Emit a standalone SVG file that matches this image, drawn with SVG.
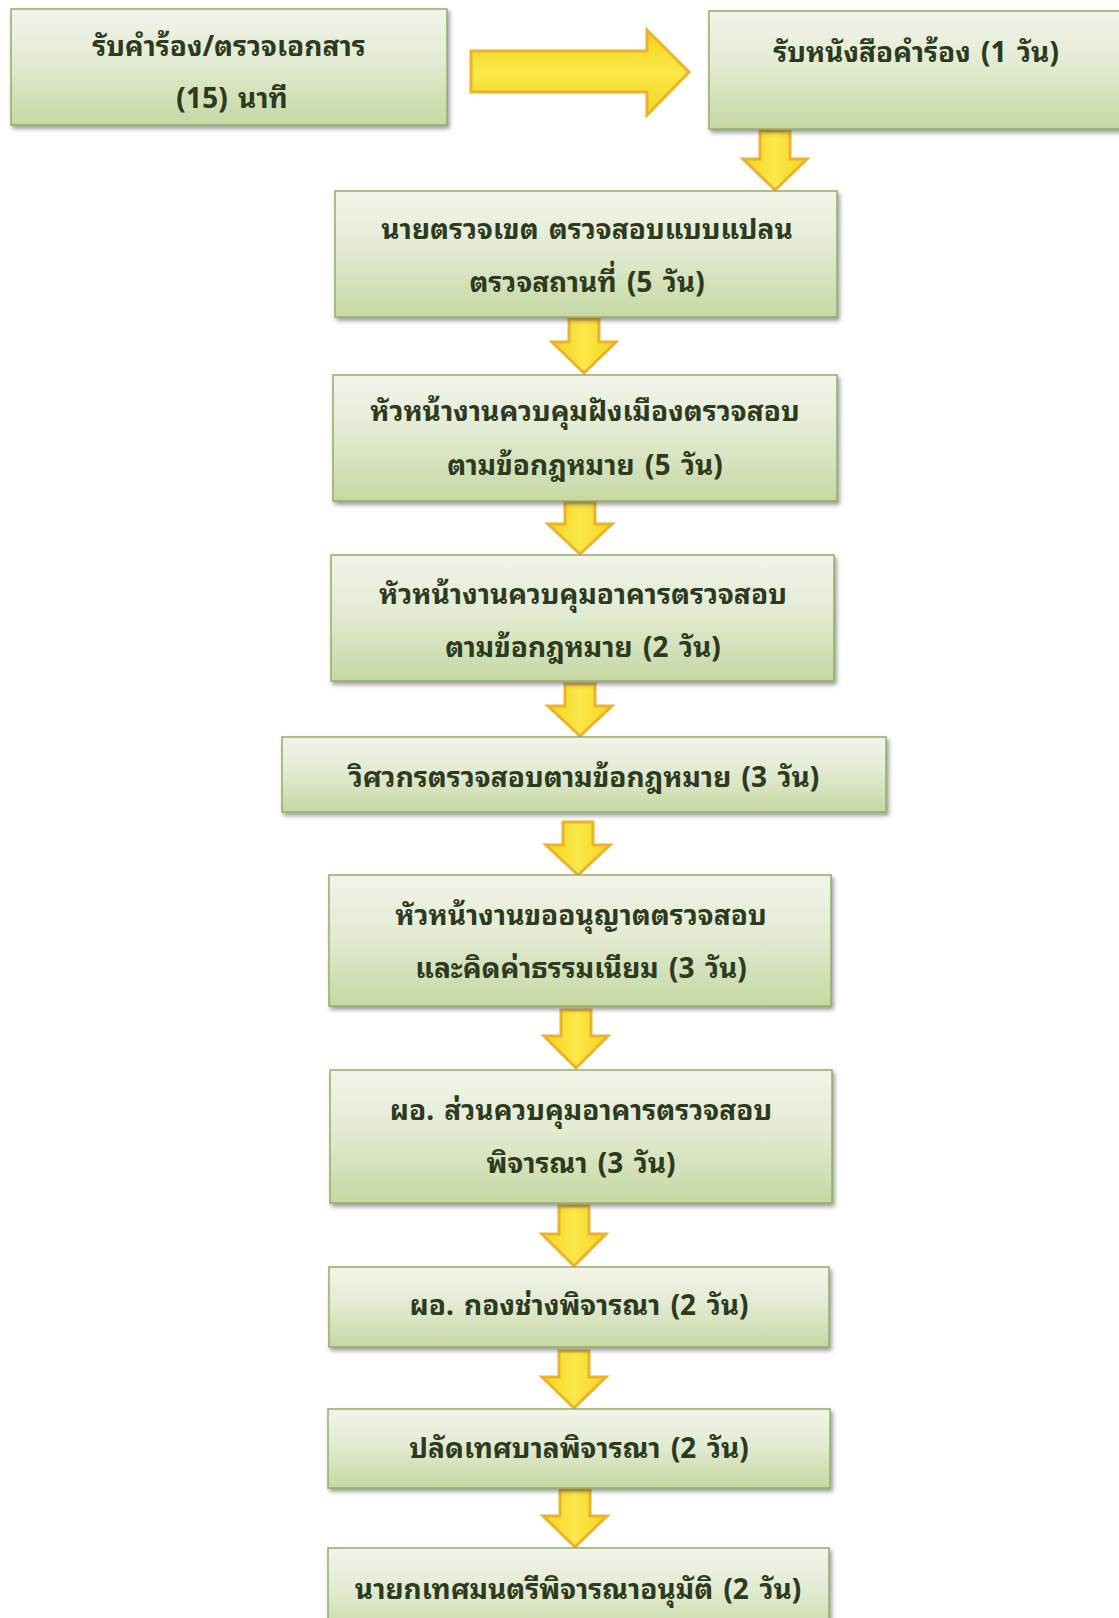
<svg xmlns="http://www.w3.org/2000/svg" width="1119" height="1618" viewBox="0 0 1119 1618">
<defs>
<linearGradient id="boxg" x1="0" y1="0" x2="0" y2="1">
<stop offset="0" stop-color="#f2f4ea"/>
<stop offset="0.45" stop-color="#e3ebd3"/>
<stop offset="1" stop-color="#c6d8a3"/>
</linearGradient>
<linearGradient id="arrv" x1="0" y1="0" x2="1" y2="0">
<stop offset="0" stop-color="#f6d31c"/>
<stop offset="0.5" stop-color="#fbe84a"/>
<stop offset="1" stop-color="#f6d31c"/>
</linearGradient>
<linearGradient id="arrh" x1="0" y1="0" x2="0" y2="1">
<stop offset="0" stop-color="#f6d31c"/>
<stop offset="0.5" stop-color="#fbe84a"/>
<stop offset="1" stop-color="#f6d31c"/>
</linearGradient>
<filter id="sh" x="-5%" y="-10%" width="112%" height="130%">
<feDropShadow dx="2" dy="3" stdDeviation="2" flood-color="#4a4a4a" flood-opacity="0.55"/>
</filter>
</defs>
<style>
.box{fill:url(#boxg);stroke:#93ae63;stroke-width:1.5;filter:url(#sh)}
.t{font-family:"Noto Sans Thai Looped","Noto Serif Thai","Noto Sans Thai","Noto Sans Thai UI","Loma","Tahoma","Noto Sans","DejaVu Sans",sans-serif;font-size:28px;font-weight:bold;fill:#2c3a20;text-anchor:middle;dominant-baseline:central;word-spacing:3px}
.av{fill:url(#arrv);stroke:#eeb12c;stroke-width:3;stroke-linejoin:miter}
.ah{fill:url(#arrh);stroke:#eeb12c;stroke-width:3;stroke-linejoin:miter}
</style>
<rect width="1119" height="1618" fill="#ffffff"/>

<g id="connectors">
<path class="ah" d="M471,51 L647,51 L647,30 L689,72 L647,115 L647,92 L471,92 Z"/>
<path class="av" d="M760,131 L790,131 L790,159 L807,159 L775,190 L743,159 L760,159 Z"/>
<path class="av" d="M569,319 L599,319 L599,342 L616,342 L584,373 L552,342 L569,342 Z"/>
<path class="av" d="M565,502 L595,502 L595,524 L612,524 L580,554 L548,524 L565,524 Z"/>
<path class="av" d="M565,684 L595,684 L595,706 L612,706 L580,736 L548,706 L565,706 Z"/>
<path class="av" d="M563,822 L593,822 L593,845 L610,845 L578,875 L546,845 L563,845 Z"/>
<path class="av" d="M561,1010 L591,1010 L591,1036 L608,1036 L576,1068 L544,1036 L561,1036 Z"/>
<path class="av" d="M559,1206 L589,1206 L589,1234 L606,1234 L574,1266 L542,1234 L559,1234 Z"/>
<path class="av" d="M559,1351 L589,1351 L589,1377 L606,1377 L574,1408 L542,1377 L559,1377 Z"/>
<path class="av" d="M560,1490 L590,1490 L590,1516 L607,1516 L575,1547 L543,1516 L560,1516 Z"/>
</g>

<g id="n1">
<rect class="box" x="11" y="9" width="436" height="116"/>
<text class="t" x="229" y="43">รับคำร้อง/ตรวจเอกสาร</text>
<text class="t" x="232" y="95">(15) นาที</text>
</g>
<g id="n2">
<rect class="box" x="709" y="11" width="430" height="118"/>
<text class="t" x="916" y="49">รับหนังสือคำร้อง (1 วัน)</text>
</g>
<g id="n3">
<rect class="box" x="335" y="191" width="502" height="126"/>
<text class="t" x="587" y="226">นายตรวจเขต ตรวจสอบแบบแปลน</text>
<text class="t" x="587" y="279">ตรวจสถานที่ (5 วัน)</text>
</g>
<g id="n4">
<rect class="box" x="333" y="375" width="504" height="126"/>
<text class="t" x="585" y="408">หัวหน้างานควบคุมฝังเมืองตรวจสอบ</text>
<text class="t" x="585" y="462">ตามข้อกฎหมาย (5 วัน)</text>
</g>
<g id="n5">
<rect class="box" x="331" y="555" width="503" height="126"/>
<text class="t" x="583" y="591">หัวหน้างานควบคุมอาคารตรวจสอบ</text>
<text class="t" x="583" y="644">ตามข้อกฎหมาย (2 วัน)</text>
</g>
<g id="n6">
<rect class="box" x="282" y="737" width="604" height="75"/>
<text class="t" x="584" y="774">วิศวกรตรวจสอบตามข้อกฎหมาย (3 วัน)</text>
</g>
<g id="n7">
<rect class="box" x="329" y="875" width="502" height="131"/>
<text class="t" x="581" y="912">หัวหน้างานขออนุญาตตรวจสอบ</text>
<text class="t" x="581" y="965">และคิดค่าธรรมเนียม (3 วัน)</text>
</g>
<g id="n8">
<rect class="box" x="330" y="1070" width="502" height="133"/>
<text class="t" x="581" y="1107">ผอ. ส่วนควบคุมอาคารตรวจสอบ</text>
<text class="t" x="581" y="1160">พิจารณา (3 วัน)</text>
</g>
<g id="n9">
<rect class="box" x="329" y="1267" width="500" height="80"/>
<text class="t" x="579" y="1302">ผอ. กองช่างพิจารณา (2 วัน)</text>
</g>
<g id="n10">
<rect class="box" x="328" y="1409" width="502" height="79"/>
<text class="t" x="579" y="1445">ปลัดเทศบาลพิจารณา (2 วัน)</text>
</g>
<g id="n11">
<rect class="box" x="328" y="1548" width="501" height="90"/>
<text class="t" x="578" y="1586">นายกเทศมนตรีพิจารณาอนุมัติ (2 วัน)</text>
</g>
</svg>
